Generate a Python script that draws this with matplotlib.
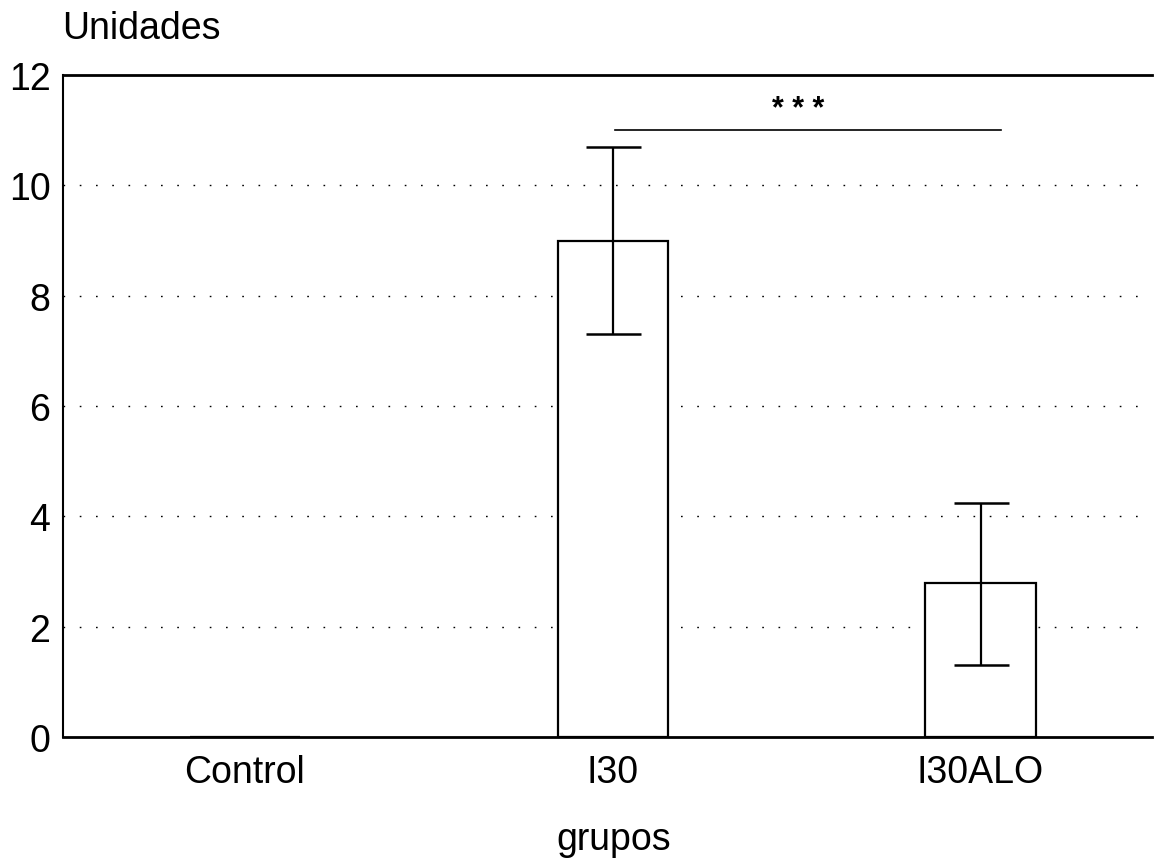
import matplotlib
matplotlib.use("Agg")
import matplotlib.pyplot as plt

# Group means and error limits
groups = ["Control", "I30", "I30ALO"]
means = [0.0, 9.0, 2.8]
err_low = [0.0, 1.7, 1.5]
err_high = [0.0, 1.7, 1.45]
yticks = [0, 2, 4, 6, 8, 10, 12]

# Significance bracket between I30 and I30ALO
sig_x = [1.005, 2.057]
sig_y = 11.0
sig_label = "* * *"

plt.rcParams["font.family"] = ["Liberation Sans", "DejaVu Sans"]
FS = 27

fig = plt.figure(figsize=(11.55, 8.62), dpi=100)
ax = fig.add_axes([0.0545, 0.1439, 0.9425, 0.7679])

pos = list(range(len(groups)))
ax.bar(pos, means, width=0.3, color="white", edgecolor="black",
       linewidth=1.6, zorder=3)
ax.errorbar([1, 2], means[1:], yerr=[err_low[1:], err_high[1:]], fmt="none",
            ecolor="black", elinewidth=1.6, capsize=19.8, capthick=1.8,
            zorder=4)

ax.plot(sig_x, [sig_y, sig_y], color="black", linewidth=1.2, zorder=4)
ax.text(1.505, sig_y + 0.12, sig_label, ha="center", va="bottom",
        fontsize=22, fontweight="bold", color="black")

ax.set_xlim(-0.495, 2.465)
ax.set_ylim(0, 12)
ax.set_yticks(yticks)
ax.set_yticklabels([str(v) for v in yticks], fontsize=FS)
ax.set_xticks(pos)
ax.set_xticklabels(groups, fontsize=FS)
ax.tick_params(axis="both", length=0)
ax.tick_params(axis="x", pad=12)
ax.tick_params(axis="y", pad=9)

for y in yticks[1:-1]:
    ax.axhline(y, color="black", linewidth=1.0, linestyle=(0, (1.2, 10.5)),
               zorder=1)

ax.spines["right"].set_visible(False)
ax.spines["top"].set_linewidth(2.0)
ax.spines["bottom"].set_linewidth(2.0)
ax.spines["left"].set_linewidth(1.5)

fig.text(0.531, 0.0139, "grupos", fontsize=FS, ha="center", va="baseline")
fig.text(0.0535, 0.966, "Unidades", fontsize=FS, ha="left", va="center")

fig.savefig("out.png", dpi=100, facecolor="white")
